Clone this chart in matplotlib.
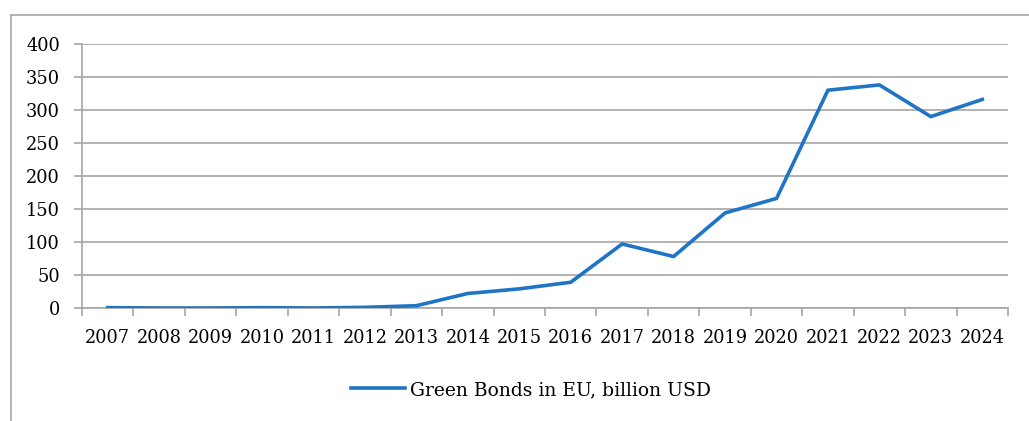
import matplotlib.pyplot as plt
from matplotlib.lines import Line2D
import numpy as np

# --- данные ---
years = ['2007', '2008', '2009', '2010', '2011', '2012', '2013', '2014', '2015',
         '2016', '2017', '2018', '2019', '2020', '2021', '2022', '2023', '2024']
green_bonds = [0.5, 0, 0, 0.5, 0, 1, 3.5, 22, 29, 39, 97, 78, 144, 166, 330, 338, 290, 316]

plt.rcParams['font.family'] = ['DejaVu Serif']

W, H = 1029, 421
fig = plt.figure(figsize=(W / 100, H / 100), dpi=100)
ax = fig.add_axes([82 / W, 1 - 308 / H, (1008 - 82) / W, (308 - 44) / H])

grid_c = '#a6a6a6'
x = np.arange(len(years))
ax.plot(x, green_bonds, color='#1f74c6', lw=2.6, solid_joinstyle='miter',
        label='Green Bonds in EU, billion USD', zorder=3)

ax.set_xlim(-0.5, len(years) - 0.5)
ax.set_ylim(0, 400)
ax.set_yticks(np.arange(0, 401, 50))
ax.yaxis.grid(True, color=grid_c, lw=1.2)
ax.set_axisbelow(True)

ax.set_xticks(x)
ax.set_xticklabels(years)
ax.set_xticks(np.arange(-0.5, len(years), 1), minor=True)
ax.tick_params(axis='x', which='major', length=0, pad=15, labelsize=12.8)
ax.tick_params(axis='x', which='minor', length=6, color=grid_c, width=1.2)
ax.tick_params(axis='y', length=6, color=grid_c, width=1.2, labelsize=12.8, pad=10)

for s in ['top', 'right']:
    ax.spines[s].set_visible(False)
for s in ['left', 'bottom']:
    ax.spines[s].set_color(grid_c)
    ax.spines[s].set_linewidth(1.2)

leg = fig.legend(loc='center', bbox_to_anchor=(531 / W, 1 - 390 / H), frameon=False,
                 fontsize=13.5, handlelength=2.9, handletextpad=0.3)

# внешняя рамка
fig.add_artist(Line2D([11 / W, 11 / W], [0, 1 - 15 / H], color='#a6a6a6', lw=1.2,
                      transform=fig.transFigure))
fig.add_artist(Line2D([11 / W, 1], [1 - 15 / H, 1 - 15 / H], color='#a6a6a6', lw=1.2,
                      transform=fig.transFigure))

fig.savefig('out.png', dpi=100)
